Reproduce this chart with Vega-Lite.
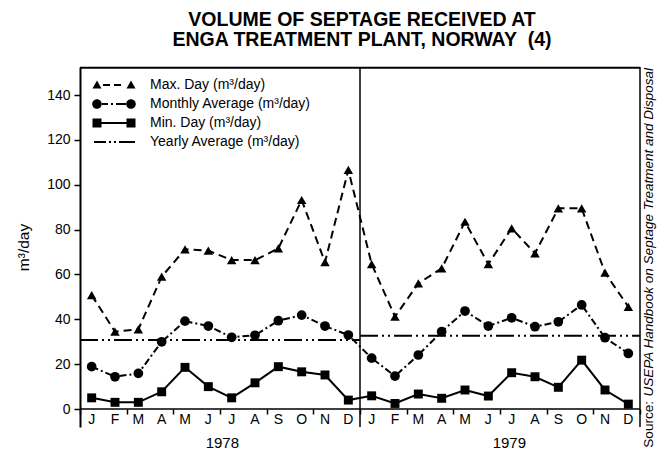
{
  "$schema": "https://vega.github.io/schema/vega-lite/v6.json",
  "width": 560,
  "height": 360,
  "autosize": {"type": "none"},
  "padding": {"left": 80, "top": 67, "right": 18, "bottom": 23},
  "background": "white",
  "view": {"stroke": null},
  "config": {
    "font": "Liberation Sans",
    "axis": {"labelColor": "black", "titleColor": "black", "domainColor": "black", "tickColor": "black", "grid": false}
  },
  "title": {
    "text": ["VOLUME OF SEPTAGE RECEIVED AT", "ENGA TREATMENT PLANT, NORWAY\u00a0\u00a0(4)"],
    "font": "Liberation Sans",
    "fontSize": 19.5,
    "fontWeight": "bold",
    "color": "black",
    "lineHeight": 20,
    "anchor": "middle",
    "frame": "group",
    "offset": 16,
    "dx": 2
  },
  "datasets": {
    "monthly": [
      {"year": 1978, "month": 1, "max": 50.8, "avg": 18.9, "min": 5.0},
      {"year": 1978, "month": 2, "max": 34.5, "avg": 14.4, "min": 3.0},
      {"year": 1978, "month": 3, "max": 35.5, "avg": 15.9, "min": 3.0},
      {"year": 1978, "month": 4, "max": 59.0, "avg": 30.0, "min": 7.7},
      {"year": 1978, "month": 5, "max": 71.2, "avg": 39.2, "min": 18.6},
      {"year": 1978, "month": 6, "max": 70.6, "avg": 37.0, "min": 10.0},
      {"year": 1978, "month": 7, "max": 66.4, "avg": 32.0, "min": 5.0},
      {"year": 1978, "month": 8, "max": 66.4, "avg": 32.9, "min": 11.7},
      {"year": 1978, "month": 9, "max": 71.6, "avg": 39.4, "min": 18.9},
      {"year": 1978, "month": 10, "max": 93.2, "avg": 41.9, "min": 16.6},
      {"year": 1978, "month": 11, "max": 65.5, "avg": 37.0, "min": 15.2},
      {"year": 1978, "month": 12, "max": 106.6, "avg": 33.0, "min": 4.0},
      {"year": 1979, "month": 1, "max": 64.6, "avg": 22.7, "min": 5.9},
      {"year": 1979, "month": 2, "max": 41.2, "avg": 14.7, "min": 2.5},
      {"year": 1979, "month": 3, "max": 56.0, "avg": 24.1, "min": 6.7},
      {"year": 1979, "month": 4, "max": 62.7, "avg": 34.5, "min": 4.8},
      {"year": 1979, "month": 5, "max": 83.5, "avg": 43.7, "min": 8.5},
      {"year": 1979, "month": 6, "max": 64.6, "avg": 37.0, "min": 5.8},
      {"year": 1979, "month": 7, "max": 80.6, "avg": 40.7, "min": 16.2},
      {"year": 1979, "month": 8, "max": 69.4, "avg": 36.7, "min": 14.4},
      {"year": 1979, "month": 9, "max": 89.5, "avg": 38.9, "min": 9.7},
      {"year": 1979, "month": 10, "max": 89.5, "avg": 46.4, "min": 21.8},
      {"year": 1979, "month": 11, "max": 60.8, "avg": 31.8, "min": 8.5},
      {"year": 1979, "month": 12, "max": 45.6, "avg": 24.8, "min": 2.2}
    ],
    "yearly": [
      {"year": 1978, "avg": 30.8},
      {"year": 1979, "avg": 32.7}
    ],
    "legend": [
      {"series": "Max. Day (m³/day)"},
      {"series": "Monthly Average (m³/day)"},
      {"series": "Min. Day (m³/day)"},
      {"series": "Yearly Average (m³/day)"}
    ],
    "one": [{}]
  },
  "data": {"name": "monthly"},
  "transform": [{"calculate": "(datum.year - 1978) * 12 + datum.month - 0.5", "as": "m"}],
  "layer": [
    {
      "mark": {"type": "line", "color": "black", "strokeWidth": 2},
      "encoding": {
        "x": {
          "field": "m", "type": "quantitative",
          "scale": {"domain": [0, 24], "nice": false, "zero": false},
          "axis": {
            "values": [0, 1, 2, 3, 4, 5, 6, 7, 8, 9, 10, 11, 12, 13, 14, 15, 16, 17, 18, 19, 20, 21, 22, 23, 24],
            "labels": false,
            "offset": -17.94,
            "domain": false,
            "tickSize": 5,
            "tickWidth": 1.5,
            "title": null
          }
        },
        "y": {
          "field": "min", "type": "quantitative",
          "scale": {"domain": [-8, 152.5], "nice": false, "zero": false},
          "axis": {
            "values": [0, 10, 20, 30, 40, 50, 60, 70, 80, 90, 100, 110, 120, 130, 140],
            "labelExpr": "datum.value % 20 == 0 ? datum.label : ''",
            "title": "m³/day",
            "titleFont": "Liberation Sans",
            "titleFontSize": 15.5,
            "titleFontWeight": "normal",
            "titlePadding": 15,
            "labelFont": "Liberation Sans",
            "labelFontSize": 14,
            "labelPadding": 4,
            "tickSize": 6,
            "tickWidth": 1.5,
            "domainWidth": 2,
            "labelOverlap": false,
            "labelFlush": false
          }
        }
      }
    },
    {
      "transform": [{"calculate": "['J','F','M','A','M','J','J','A','S','O','N','D'][datum.month - 1]", "as": "letter"}],
      "mark": {"type": "text", "font": "Liberation Sans", "fontSize": 14, "color": "black", "baseline": "middle", "align": "center"},
      "encoding": {
        "x": {"field": "m", "type": "quantitative"},
        "y": {"datum": -4.9, "type": "quantitative"},
        "text": {"field": "letter"}
      }
    },
    {
      "data": {"name": "one"},
      "mark": {"type": "rule", "color": "black", "strokeWidth": 1.5},
      "encoding": {"y": {"datum": 0, "type": "quantitative"}}
    },
    {
      "data": {"name": "one"},
      "mark": {"type": "rule", "color": "black", "strokeWidth": 2},
      "encoding": {"y": {"datum": 152.2, "type": "quantitative"}}
    },
    {
      "data": {"name": "one"},
      "mark": {"type": "rule", "color": "black", "strokeWidth": 1.5},
      "encoding": {"x": {"datum": 24, "type": "quantitative"}}
    },
    {
      "data": {"name": "one"},
      "mark": {"type": "rule", "color": "black", "strokeWidth": 1.5},
      "encoding": {"x": {"datum": 12, "type": "quantitative"}}
    },
    {
      "data": {"name": "yearly"},
      "transform": [
        {"calculate": "(datum.year - 1978) * 12", "as": "start"},
        {"calculate": "datum.start + 12", "as": "end"}
      ],
      "mark": {"type": "rule", "color": "black", "strokeWidth": 2, "strokeDash": [18, 4, 2, 4, 2, 4]},
      "encoding": {
        "x": {"field": "start", "type": "quantitative"},
        "x2": {"field": "end"},
        "y": {"field": "avg", "type": "quantitative"}
      }
    },
    {
      "mark": {"type": "line", "color": "black", "strokeWidth": 2, "strokeDash": [8, 5]},
      "encoding": {
        "x": {"field": "m", "type": "quantitative"},
        "y": {"field": "max", "type": "quantitative"}
      }
    },
    {
      "mark": {"type": "point", "shape": "triangle-up", "filled": true, "size": 90, "color": "black", "opacity": 1},
      "encoding": {
        "x": {"field": "m", "type": "quantitative"},
        "y": {"field": "max", "type": "quantitative"}
      }
    },
    {
      "mark": {"type": "line", "color": "black", "strokeWidth": 2, "strokeDash": [7, 3, 2, 3]},
      "encoding": {
        "x": {"field": "m", "type": "quantitative"},
        "y": {"field": "avg", "type": "quantitative"}
      }
    },
    {
      "mark": {"type": "point", "shape": "circle", "filled": true, "size": 95, "color": "black", "opacity": 1},
      "encoding": {
        "x": {"field": "m", "type": "quantitative"},
        "y": {"field": "avg", "type": "quantitative"}
      }
    },
    {
      "mark": {"type": "point", "shape": "square", "filled": true, "size": 80, "color": "black", "opacity": 1},
      "encoding": {
        "x": {"field": "m", "type": "quantitative"},
        "y": {"field": "min", "type": "quantitative"}
      }
    },
    {
      "data": {"name": "one"},
      "mark": {"type": "text", "font": "Liberation Sans", "fontSize": 15, "fontWeight": "normal", "color": "black", "baseline": "middle", "align": "center"},
      "encoding": {
        "x": {"datum": 6.1, "type": "quantitative"},
        "y": {"datum": -15.0, "type": "quantitative"},
        "text": {"value": "1978"}
      }
    },
    {
      "data": {"name": "one"},
      "mark": {"type": "text", "font": "Liberation Sans", "fontSize": 15, "fontWeight": "normal", "color": "black", "baseline": "middle", "align": "center"},
      "encoding": {
        "x": {"datum": 18.4, "type": "quantitative"},
        "y": {"datum": -15.0, "type": "quantitative"},
        "text": {"value": "1979"}
      }
    },
    {
      "data": {"name": "one"},
      "mark": {"type": "text", "font": "Liberation Sans", "fontSize": 13.5, "fontStyle": "italic", "color": "black", "baseline": "middle", "align": "right", "angle": 270},
      "encoding": {
        "x": {"datum": 24.4, "type": "quantitative"},
        "y": {"datum": 152.05, "type": "quantitative"},
        "text": {"value": "USEPA Handbook on Septage Treatment and Disposal"}
      }
    },
    {
      "data": {"name": "one"},
      "mark": {"type": "text", "font": "Liberation Sans", "fontSize": 13.5, "color": "black", "baseline": "middle", "align": "left", "angle": 270},
      "encoding": {
        "x": {"datum": 24.4, "type": "quantitative"},
        "y": {"datum": -17.2, "type": "quantitative"},
        "text": {"value": "Source:"}
      }
    },
    {
      "data": {"name": "legend"},
      "mark": {"type": "point", "filled": true, "size": 4, "color": "black", "clip": true},
      "encoding": {
        "x": {"datum": -100, "type": "quantitative"},
        "y": {"datum": 50, "type": "quantitative"},
        "shape": {
          "field": "series", "type": "nominal",
          "scale": {
            "domain": ["Max. Day (m³/day)", "Monthly Average (m³/day)", "Min. Day (m³/day)", "Yearly Average (m³/day)"],
            "range": [
              "M2.5,3.5L11.5,3.5L7,-4.5Z M13,-1H20V1H13Z M24,-1H31V1H24Z M36.5,3.5L45.5,3.5L41,-4.5Z",
              "M2.2,0A4.8,4.8 0 1,0 11.8,0A4.8,4.8 0 1,0 2.2,0Z M12,-1H18V1H12Z M21,-1H23V1H21Z M26,-1H36V1H26Z M36.2,0A4.8,4.8 0 1,0 45.8,0A4.8,4.8 0 1,0 36.2,0Z",
              "M2.5,-4.5H11.5V4.5H2.5Z M11,-1H37V1H11Z M36.5,-4.5H45.5V4.5H36.5Z",
              "M4,-1H16V1H4Z M19,-1H21V1H19Z M24,-1H26V1H24Z M29,-1H45V1H29Z"
            ]
          },
          "legend": {
            "title": null,
            "orient": "none",
            "legendX": 3,
            "legendY": 11,
            "padding": 0,
            "labelFont": "Liberation Sans",
            "labelFontSize": 14,
            "labelColor": "black",
            "labelOffset": 53,
            "labelLimit": 400,
            "symbolSize": 4,
            "rowPadding": 5,
            "symbolStrokeWidth": 0,
            "symbolFillColor": "black",
            "symbolOpacity": 1
          }
        }
      }
    }
  ]
}
